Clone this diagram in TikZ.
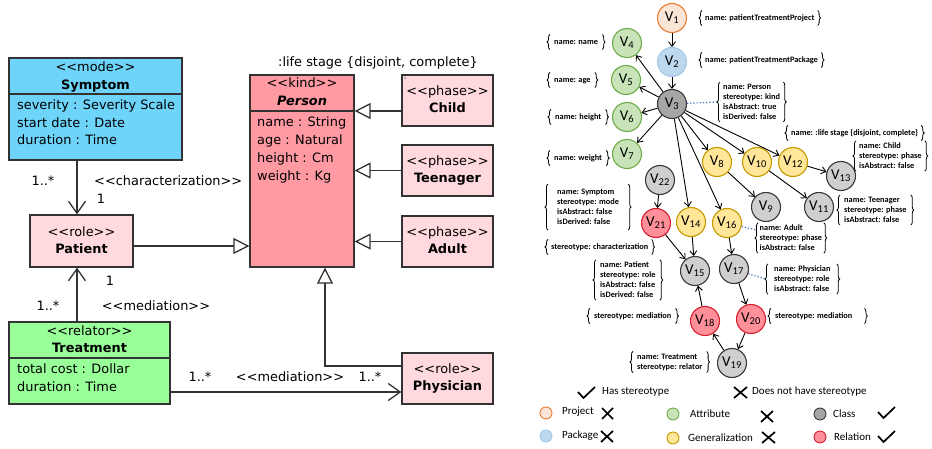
\documentclass[tikz,border=0pt]{standalone}
\usepackage{fontspec}
\setmainfont{DejaVu Sans}
\newfontfamily\umlfam{DejaVu Sans}
\newfontfamily\carl{Carlito}
\usetikzlibrary{arrows.meta,decorations.pathreplacing}

\definecolor{umlline}{HTML}{333333}
\definecolor{symfill}{HTML}{6ED4FA}
\definecolor{perfill}{HTML}{FF9AA3}
\definecolor{phfill}{HTML}{FFD9DD}
\definecolor{trfill}{HTML}{99FF99}
\definecolor{projf}{HTML}{FBE5D6}\definecolor{projd}{HTML}{ED7D31}
\definecolor{packf}{HTML}{BDD7EE}\definecolor{packd}{HTML}{A8C8E8}
\definecolor{attrf}{HTML}{C9E3B9}\definecolor{attrd}{HTML}{70AD47}
\definecolor{genf}{HTML}{FFE699}\definecolor{gend}{HTML}{C59A00}
\definecolor{clsf}{HTML}{D0CECE}\definecolor{clsd}{HTML}{3A3A3A}
\definecolor{clsthree}{HTML}{A6A6A6}
\definecolor{relf}{HTML}{FF8F98}\definecolor{reld}{HTML}{D62030}
\definecolor{dotb}{HTML}{4472C4}

\newcommand\umlf{\umlfam\fontsize{12.9}{15}\selectfont}
\newcommand\stt[1]{<{}<#1>{}>}
\newcommand\vv[1]{V\textsubscript{#1}}

\begin{document}
\begin{tikzpicture}[x=1pt,y=-1pt,
  umlbox/.style={draw=umlline,line width=1.3pt,inner sep=0pt},
  umlsep/.style={draw=umlline,line width=1.3pt},
  utxt/.style={font=\umlf,inner sep=0pt,text height=9.5pt,text depth=2.5pt},
  ubold/.style={utxt,font=\umlf\bfseries},
  gen/.style={draw=umlline,line width=1.3pt,-{Triangle[length=16pt,width=16pt,fill=white]}},
  assoc/.style={draw=umlline,line width=1.3pt,-{Straight Barb[length=12pt,width=17pt]}},
  vn/.style={circle,minimum size=29pt,inner sep=0pt,line width=1.1pt,font=\carl\fontsize{15}{15}\selectfont},
  proj/.style={fill=projf,draw=projd},
  pack/.style={fill=packf,draw=packd},
  attr/.style={fill=attrf,draw=attrd},
  gn/.style={fill=genf,draw=gend},
  cls/.style={fill=clsf,draw=clsd},
  clsdark/.style={fill=clsthree,draw=clsd},
  rel/.style={fill=relf,draw=reld},
  ed/.style={draw=black,line width=0.9pt,-{Straight Barb[length=4.5pt,width=7pt]}},
  dotl/.style={draw=dotb,line width=1.2pt,dotted},
  lab/.style={font=\carl\bfseries\fontsize{8.3}{10}\selectfont,inner xsep=3pt,inner ysep=2pt,anchor=west,align=left},
  lab1/.style={lab,text height=6.2pt,text depth=1.8pt,inner ysep=3.3pt},
  brc/.style={decorate,decoration={brace,amplitude=3pt},line width=0.8pt,draw=black},
  legt/.style={font=\carl\fontsize{11}{13}\selectfont,inner sep=0pt,anchor=west},
  legc/.style={circle,minimum size=12pt,inner sep=0pt,line width=0.9pt},
  mk/.style={line width=1.7pt,draw=black}
]
\useasboundingbox[fill=white] (0,0) rectangle (932,449);

% ---------------- UML diagram ----------------
% Symptom
\node[umlbox,fill=symfill,minimum width=173pt,minimum height=102pt] (symptom) at (95.5,109) {};
\draw[umlsep] (symptom.west |- 0,94) -- (symptom.east |- 0,94);
\node[utxt] (symst) at (95.5,68) {\stt{mode}};
\node[ubold] (symnm) at (95.5,86) {Symptom};
\node[utxt,anchor=west] (syma) at (17,106) {severity : Severity Scale};
\node[utxt,anchor=west] (symb) at (17,124) {start date : Date};
\node[utxt,anchor=west] (symc) at (17,141) {duration : Time};

% Person
\node[umlbox,fill=perfill,minimum width=104pt,minimum height=192pt] (person) at (302,171) {};
\draw[umlsep] (person.west |- 0,111) -- (person.east |- 0,111);
\node[utxt] (perst) at (302,84) {\stt{kind}};
\node[ubold,font=\umlf\bfseries\itshape] (pernm) at (302,102) {Person};
\node[utxt,anchor=west] (pera) at (257,123) {name : String};
\node[utxt,anchor=west] (perb) at (257,141) {age : Natural};
\node[utxt,anchor=west] (perc) at (257,159) {height : Cm};
\node[utxt,anchor=west] (perd) at (257,177) {weight : Kg};
\node[utxt] (lifest) at (378,63) {:life stage \{disjoint, complete\}};

% phases
\node[umlbox,fill=phfill,minimum width=91pt,minimum height=51pt] (child) at (447.5,100.5) {};
\node[utxt] (chst) at (447.5,92) {\stt{phase}};
\node[ubold] (chnm) at (447.5,109) {Child};
\node[inner sep=0pt,font=\umlfam\fontsize{4}{4}\selectfont,text=gray] (chmark) at (405,78) {a};
\node[umlbox,fill=phfill,minimum width=91pt,minimum height=51pt] (teen) at (447.5,170.5) {};
\node[utxt] (tnst) at (447.5,162) {\stt{phase}};
\node[ubold] (tnnm) at (447.5,179) {Teenager};
\node[umlbox,fill=phfill,minimum width=91pt,minimum height=51pt] (adult) at (447.5,241.5) {};
\node[utxt] (adst) at (447.5,233) {\stt{phase}};
\node[ubold] (adnm) at (447.5,250) {Adult};

% Patient
\node[umlbox,fill=phfill,minimum width=103pt,minimum height=52pt] (patient) at (81.5,241) {};
\node[utxt] (patst) at (81.5,233) {\stt{role}};
\node[ubold] (patnm) at (81.5,250) {Patient};

% Treatment
\node[umlbox,fill=trfill,minimum width=161pt,minimum height=82pt] (treat) at (89.5,363) {};
\draw[umlsep] (treat.west |- 0,358) -- (treat.east |- 0,358);
\node[utxt] (trst) at (89.5,332) {\stt{relator}};
\node[ubold] (trnm) at (89.5,349) {Treatment};
\node[utxt,anchor=west] (tra) at (17,370) {total cost : Dollar};
\node[utxt,anchor=west] (trb) at (17,388) {duration : Time};

% Physician
\node[umlbox,fill=phfill,minimum width=91pt,minimum height=51pt] (phys) at (447.5,378.5) {};
\node[utxt] (phst) at (447.5,370) {\stt{role}};
\node[ubold] (phnm) at (447.5,387) {Physician};

% generalizations
\coordinate (chp) at ([yshift=-10.5pt]child.west);
\draw[gen] (chp) -- (chp -| person.east);
\draw[gen] (teen.west) -- (teen.west -| person.east);
\draw[gen] (adult.west) -- (adult.west -| person.east);
\coordinate (pap) at ([yshift=-5pt]patient.east);
\draw[gen] (pap) -- (pap -| person.west);
\coordinate (php) at ([yshift=12.5pt]phys.west);
\coordinate (pbp) at ([xshift=23pt]person.south);
\draw[gen] (php) -| (pbp);

% associations
\coordinate (syp) at ([xshift=-18.5pt]symptom.south);
\draw[assoc] (syp) -- (syp |- patient.north);
\coordinate (trp) at ([xshift=-12.5pt]treat.north);
\draw[assoc] (trp) -- (trp |- patient.south);
\coordinate (trr) at ([yshift=-29pt]treat.east);
\draw[assoc] (trr) -- (trr -| phys.west);

\node[utxt] (m1) at (43,182) {1..*};
\node[utxt,anchor=west] (m2) at (94,182) {\stt{characterization}};
\node[utxt] (m3) at (101,200) {1};
\node[utxt] (m4) at (110,282) {1};
\node[utxt] (m5) at (48,307) {1..*};
\node[utxt] (m6) at (156,307) {\stt{mediation}};
\node[utxt] (m7) at (200,378) {1..*};
\node[utxt] (m8) at (290,378) {\stt{mediation}};
\node[utxt] (m9) at (370,378) {1..*};

% ---------------- graph ----------------
\node[vn,proj] (v1) at (672,18) {\vv{1}};
\node[vn,pack] (v2) at (672,62) {\vv{2}};
\node[vn,clsdark] (v3) at (672,104) {\vv{3}};
\node[vn,attr] (v4) at (627,43) {\vv{4}};
\node[vn,attr] (v5) at (626,80) {\vv{5}};
\node[vn,attr] (v6) at (627,117) {\vv{6}};
\node[vn,attr] (v7) at (627,154) {\vv{7}};
\node[vn,gn] (v8) at (717,162) {\vv{8}};
\node[vn,gn] (v10) at (757,162) {\vv{10}};
\node[vn,gn] (v12) at (793,162) {\vv{12}};
\node[vn,cls] (v13) at (841,176) {\vv{13}};
\node[vn,cls] (v9) at (766,207) {\vv{9}};
\node[vn,cls] (v11) at (819,207) {\vv{11}};
\node[vn,cls] (v22) at (660,180) {\vv{22}};
\node[vn,rel] (v21) at (656,223) {\vv{21}};
\node[vn,gn] (v14) at (691,222) {\vv{14}};
\node[vn,gn] (v16) at (727,223) {\vv{16}};
\node[vn,cls] (v15) at (695,271) {\vv{15}};
\node[vn,cls] (v17) at (734,269) {\vv{17}};
\node[vn,rel] (v18) at (705,321) {\vv{18}};
\node[vn,rel] (v20) at (751,319) {\vv{20}};
\node[vn,cls] (v19) at (732,363) {\vv{19}};

\foreach \a/\b in {v1/v2,v2/v3,v3/v4,v3/v5,v3/v6,v3/v7,v3/v8,v3/v10,v3/v12,v3/v14,v3/v16,
  v8/v9,v10/v11,v12/v13,v22/v21,v21/v15,v14/v15,v16/v17,v17/v20,v20/v19,v19/v18,v18/v15}
  \draw[ed] (\a) -- (\b);

% labels (braces drawn around each)
\node[lab1] (lp1) at (702,18) {name: patientTreatmentProject};
\node[lab1] (lp2) at (702,60) {name: patientTreatmentPackage};
\node[lab1,inner xsep=4pt] (la1) at (550,42) {name: name};
\node[lab1,inner xsep=4pt] (la2) at (550,80) {name: age};
\node[lab1,inner xsep=4pt] (la3) at (551,117) {name: height};
\node[lab1,inner xsep=4pt] (la4) at (550,158) {name: weight};
\node[lab] (lper) at (720,102) {name: Person\\stereotype: kind\\isAbstract: true\\isDerived: false};
\node[lab1] (llife) at (788,133) {name: :life stage \{disjoint, complete\}};
\node[lab] (lchild) at (856,156) {name: Child\\stereotype: phase\\isAbstract: false};
\node[lab,inner xsep=4pt] (lteen) at (840,210) {name: Teenager\\stereotype: phase\\isAbstract: false};
\node[lab,inner xsep=1.5pt] (ladult) at (758,238) {name: Adult\\stereotype: phase\\isAbstract: false};
\node[lab,inner xsep=9pt,inner ysep=5pt] (lsym) at (548,207) {name: Symptom\\stereotype: mode\\isAbstract: false\\isDerived: false};
\node[lab1] (lchar) at (548,247) {stereotype: characterization};
\node[lab,inner xsep=4pt] (lpat) at (596,280) {name: Patient\\stereotype: role\\isAbstract: false\\isDerived: false};
\node[lab1,inner xsep=4pt] (lmedl) at (590,316) {stereotype: mediation};
\node[lab,inner xsep=4pt] (ltreat) at (633,362) {name: Treatment\\stereotype: relator};
\node[lab,inner xsep=6pt] (lphys) at (768,279) {name: Physician\\stereotype: role\\isAbstract: false};
\node[lab1,inner xsep=4pt] (lmedr) at (771,316) {stereotype: mediation \hspace{6pt}};

\foreach \n in {lp1,lp2,la1,la2,la3,la4,lper,llife,lchild,lteen,ladult,lsym,lchar,lpat,lmedl,ltreat,lphys,lmedr}{
  \draw[brc] (\n.south west) -- (\n.north west);
  \draw[brc] (\n.north east) -- (\n.south east);
}

\draw[dotl] (v3) -- ([xshift=-3pt]lper.west);
\draw[dotl] (v16) -- ([xshift=-2pt,yshift=-7pt]ladult.north west);
\draw[dotl] (v17) -- ([xshift=-3pt]lphys.west);

% ---------------- legend ----------------
\draw[mk] (578,392) -- (583.5,398) -- (595,387);
\node[legt] (lhas) at (602,392) {Has stereotype};
\draw[mk] (734,387) -- (747,398) (734,398) -- (747,387);
\node[legt] (lnot) at (752,392) {Does not have stereotype};

\node[legc,proj] (cproj) at (546,413) {};
\node[legt] (tproj) at (562,412) {Project};
\draw[mk] (602,408) -- (613,419) (602,419) -- (613,408);
\node[legc,attr] (cattr) at (673,414) {};
\node[legt] (tattr) at (690,414) {Attribute};
\draw[mk] (761,411) -- (773,422) (761,422) -- (773,411);
\node[legc,clsdark] (ccls) at (820,414) {};
\node[legt] (tcls) at (833,414) {Class};
\draw[mk] (878,412) -- (883.5,418) -- (895,407);

\node[legc,pack] (cpack) at (546,436) {};
\node[legt] (tpack) at (562,436) {Package};
\draw[mk] (601,431) -- (613,442) (601,442) -- (613,431);
\node[legc,gn] (cgen) at (673,438) {};
\node[legt] (tgen) at (688,438) {Generalization};
\draw[mk] (762,432) -- (775,443) (762,443) -- (775,432);
\node[legc,rel] (crel) at (820,437) {};
\node[legt] (trel) at (834,437) {Relation};
\draw[mk] (878,436) -- (883.5,442) -- (895,431);
\end{tikzpicture}
\end{document}
